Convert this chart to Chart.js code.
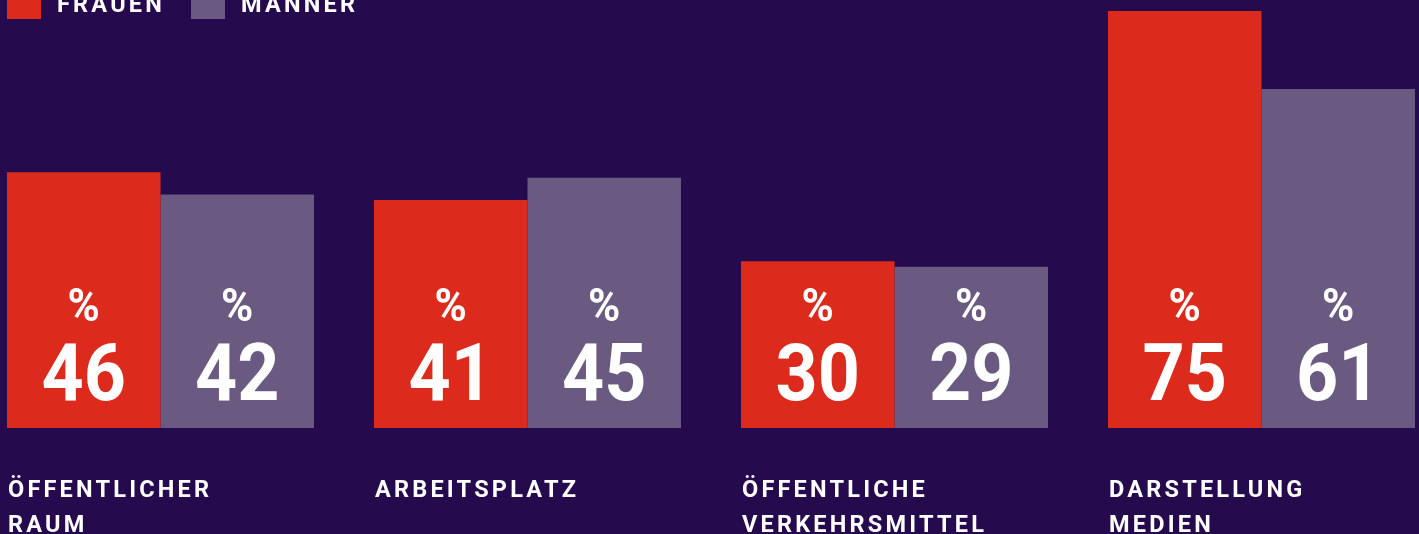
<!DOCTYPE html>
<html>
<head>
<meta charset="utf-8">
<script src="https://cdn.jsdelivr.net/npm/chart.js@4"></script>
<style>
  html, body { margin: 0; padding: 0; background: #250b4e; overflow: hidden; }
  #wrap { width: 1419px; height: 534px; position: relative; overflow: hidden; }
  /* Kategorien laufen links und rechts ein Stück über den Rand hinaus */
  #chart { position: absolute; left: -23px; top: 0; }
</style>
</head>
<body>
<div id="wrap">
  <canvas id="chart" width="1468" height="534"></canvas>
</div>

<script>
  // Kategorien (mehrzeilig) und Werte in Prozent
  const categories = [
    ["ÖFFENTLICHER", "RAUM"],
    ["ARBEITSPLATZ"],
    ["ÖFFENTLICHE", "VERKEHRSMITTEL"],
    ["DARSTELLUNG", "MEDIEN"],
  ];
  const frauen = [46, 41, 30, 75];
  const maenner = [42, 45, 29, 61];
  const seriesNames = ["FRAUEN", "MÄNNER"];

  const BG = "#250b4e";
  const RED = "#dc2b1c";
  const GREY = "#6a5a82";
  const FONT = "Roboto, 'DejaVu Sans', sans-serif";
  const SHIFT = 23; // Versatz des Canvas nach links

  // Text leicht schmaler zeichnen (DIN-artig)
  function condensed(ctx, text, x, y, sx) {
    ctx.save();
    ctx.translate(x, y);
    ctx.scale(sx, 1);
    ctx.fillText(text, 0, 0);
    ctx.restore();
  }

  // Hintergrund, Legende, Werte in den Balken und Kategorien unten
  const deko = {
    id: "deko",
    beforeDraw(chart) {
      const ctx = chart.ctx;
      ctx.save();
      ctx.fillStyle = BG;
      ctx.fillRect(0, 0, chart.width, chart.height);
      ctx.restore();
    },
    afterDatasetsDraw(chart) {
      const ctx = chart.ctx;
      const y0 = chart.scales.y.getPixelForValue(0);
      ctx.save();
      ctx.fillStyle = "#ffffff";
      ctx.textAlign = "center";
      ctx.textBaseline = "alphabetic";

      chart.data.datasets.forEach((ds, di) => {
        const meta = chart.getDatasetMeta(di);
        meta.data.forEach((bar, i) => {
          ctx.font = "700 46px " + FONT;
          condensed(ctx, "%", bar.x, y0 - 107, 0.95);
          ctx.font = "700 80px " + FONT;
          condensed(ctx, String(ds.data[i]), bar.x, y0 - 28, 0.92);
        });
      });

      // Kategorien unter den Gruppen, linksbündig
      const first = chart.getDatasetMeta(0);
      ctx.textAlign = "left";
      ctx.font = "700 23.5px " + FONT;
      ctx.letterSpacing = "3.2px";
      categories.forEach((lines, i) => {
        const bar = first.data[i];
        const left = bar.x - bar.width / 2 + 1;
        lines.forEach((t, li) => {
          ctx.fillText(t, left, y0 + 69 + li * 35);
        });
      });

      // Legende (oben angeschnitten)
      let lx = 7 + SHIFT;
      chart.data.datasets.forEach((ds) => {
        ctx.fillStyle = ds.backgroundColor;
        ctx.fillRect(lx, -15, 34, 34);
        ctx.fillStyle = "#ffffff";
        ctx.fillText(ds.label, lx + 50, 12);
        lx += 184;
      });
      ctx.restore();
    },
  };

  const ctx = document.getElementById("chart").getContext("2d");
  new Chart(ctx, {
    type: "bar",
    data: {
      labels: categories,
      datasets: [
        { label: seriesNames[0], data: frauen, backgroundColor: RED },
        { label: seriesNames[1], data: maenner, backgroundColor: GREY },
      ],
    },
    options: {
      responsive: false,
      animation: false,
      events: [],
      layout: { padding: { left: 0, right: 0, top: 0, bottom: 106 } },
      datasets: {
        bar: { categoryPercentage: 0.8365, barPercentage: 1, borderWidth: 0 },
      },
      plugins: {
        legend: { display: false },
        tooltip: { enabled: false },
      },
      scales: {
        x: { display: false, grid: { display: false } },
        y: { display: false, min: 0, max: 77 },
      },
    },
    plugins: [deko],
  });
</script>
</body>
</html>
